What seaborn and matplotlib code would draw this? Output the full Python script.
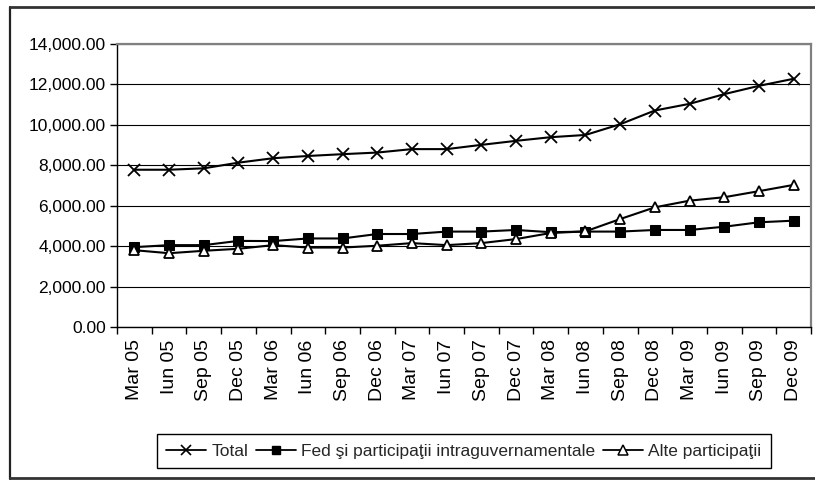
import matplotlib
matplotlib.use("Agg")
import matplotlib.pyplot as plt
from matplotlib.lines import Line2D
from matplotlib.ticker import FuncFormatter, FixedLocator
import numpy as np
import pandas as pd
import seaborn as sns

# Quarterly categories
categories = [
    "Mar 05", "Iun 05", "Sep 05", "Dec 05",
    "Mar 06", "Iun 06", "Sep 06", "Dec 06",
    "Mar 07", "Iun 07", "Sep 07", "Dec 07",
    "Mar 08", "Iun 08", "Sep 08", "Dec 08",
    "Mar 09", "Iun 09", "Sep 09", "Dec 09",
]

total = [7780, 7780, 7850, 8130, 8350, 8460, 8550, 8630, 8800, 8800,
         9010, 9210, 9390, 9500, 10030, 10710, 11040, 11520, 11930, 12280]
fed = [3950, 4050, 4050, 4260, 4250, 4380, 4380, 4600, 4600, 4720,
       4720, 4800, 4690, 4720, 4720, 4800, 4800, 4960, 5180, 5260]
alte = [3800, 3650, 3770, 3870, 4050, 3930, 3930, 4020, 4150, 4050,
        4150, 4350, 4650, 4730, 5340, 5920, 6250, 6420, 6720, 7030]

series_names = ["Total", "Fed şi participaţii intraguvernamentale", "Alte participaţii"]
y_ticks = [0, 2000, 4000, 6000, 8000, 10000, 12000, 14000]

sns.set_theme(style="white")
plt.rcParams["font.family"] = ["Liberation Sans", "DejaVu Sans"]

pos = np.arange(len(categories))
df = pd.DataFrame({"pos": pos, "Total": total, "Fed": fed, "Alte": alte})

fig = plt.figure(figsize=(8.15, 4.8), dpi=100)
ax = fig.add_axes([117 / 815, 1 - 327 / 480, (811 - 117) / 815, (327 - 44) / 480])

sns.lineplot(data=df, x="pos", y="Total", ax=ax, color="black", linewidth=1.5,
             marker="x", markersize=8, markeredgewidth=1.3, markeredgecolor="black",
             label=series_names[0], legend=False)
sns.lineplot(data=df, x="pos", y="Fed", ax=ax, color="black", linewidth=1.5,
             marker="s", markersize=6.5, markerfacecolor="black", markeredgecolor="black",
             label=series_names[1], legend=False)
sns.lineplot(data=df, x="pos", y="Alte", ax=ax, color="black", linewidth=1.5,
             marker="^", markersize=7.5, markerfacecolor="white", markeredgecolor="black",
             markeredgewidth=1.3, label=series_names[2], legend=False)

ax.set_xlim(-0.5, len(categories) - 0.5)
ax.set_ylim(0, 14000)
ax.set_xlabel("")
ax.set_ylabel("")

# Category labels centred, tick marks on the boundaries
ax.set_xticks(pos)
ax.set_xticklabels(categories, rotation=90, fontsize=14)
ax.xaxis.set_minor_locator(FixedLocator(np.arange(-0.5, len(categories), 1.0)))
ax.tick_params(axis="x", which="major", length=0, pad=9, colors="black")
ax.tick_params(axis="x", which="minor", length=5, width=1, color="black", direction="out", bottom=True)

ax.set_yticks(y_ticks)
ax.yaxis.set_major_formatter(FuncFormatter(lambda v, _: f"{v:,.2f}"))
ax.tick_params(axis="y", which="major", length=5, width=1, color="black", direction="out",
               left=True, labelsize=12.5, pad=3, labelcolor="black")

ax.grid(axis="y", color="black", linewidth=0.8)
ax.set_axisbelow(True)

for side in ("left", "bottom"):
    ax.spines[side].set_color("black")
    ax.spines[side].set_linewidth(1.0)
for side in ("top", "right"):
    ax.spines[side].set_visible(True)
    ax.spines[side].set_color("#808080")
    ax.spines[side].set_linewidth(1.6)

# Legend below the plot
handles = [
    Line2D([], [], color="black", linewidth=1.3, marker="x", markersize=7, markeredgewidth=1.2),
    Line2D([], [], color="black", linewidth=1.3, marker="s", markersize=5.5),
    Line2D([], [], color="black", linewidth=1.3, marker="^", markersize=6.5,
           markerfacecolor="white", markeredgewidth=1.1),
]
leg = fig.legend(handles, series_names, loc="center", bbox_to_anchor=(464 / 815, 1 - 451 / 480),
                 ncol=3, frameon=True, fancybox=False, edgecolor="black", framealpha=1,
                 handlelength=2.3, handletextpad=0.3, columnspacing=0.45, borderpad=0.55,
                 borderaxespad=0, prop={"size": 12.5})
leg.get_frame().set_linewidth(1.0)

# Outer chart border (open on the right edge)
fig.add_artist(Line2D([10 / 815, 10 / 815], [1 - 7 / 480, 1 - 479 / 480], transform=fig.transFigure,
                      color="#222222", linewidth=1.6))
fig.add_artist(Line2D([10 / 815, 1.0], [1 - 7 / 480, 1 - 7 / 480], transform=fig.transFigure,
                      color="#333333", linewidth=2.0))
fig.add_artist(Line2D([10 / 815, 1.0], [1 - 478 / 480, 1 - 478 / 480], transform=fig.transFigure,
                      color="#333333", linewidth=2.0))

fig.savefig("out.png", dpi=100)
